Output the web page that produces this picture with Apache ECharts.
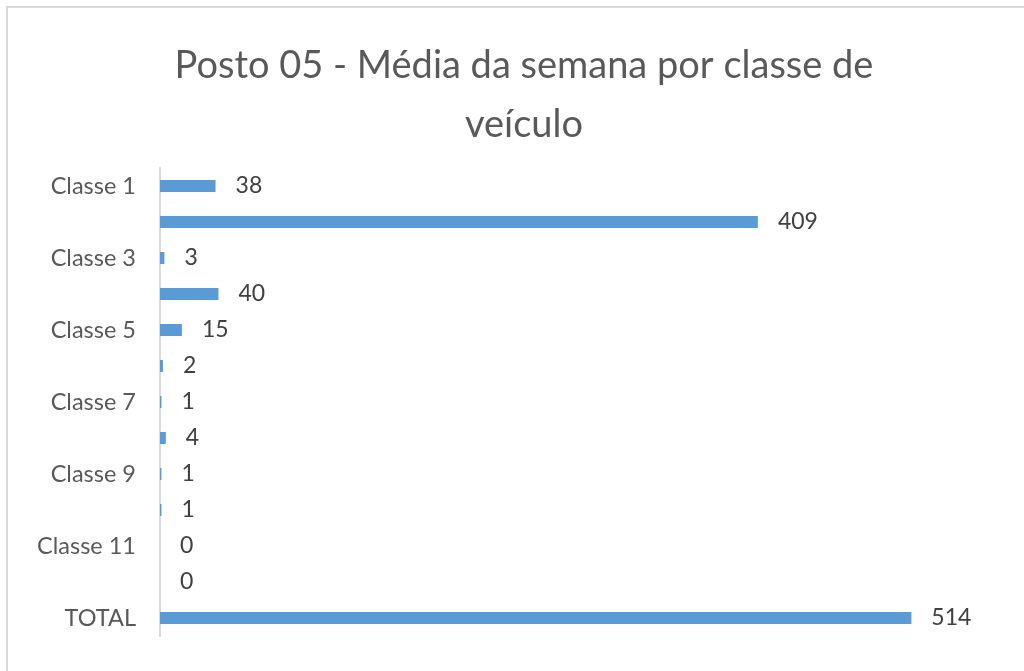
<!DOCTYPE html>
<html>
<head>
<meta charset="utf-8">
<title>Posto 05</title>
<script src="https://cdn.jsdelivr.net/npm/echarts@6/dist/echarts.min.js"></script>
<style>
  html, body { margin: 0; padding: 0; background: #fff; overflow: hidden; }
  .moldura {
    position: absolute; left: 6px; top: 6px;
    width: 1100px; height: 800px;
    border: 2px solid #d9d9d9;
  }
  .grafico { position: absolute; left: 0; top: 0; width: 1024px; height: 671px; }
</style>
</head>
<body>
<div class="moldura"></div>
<div id="grafico" class="grafico"></div>
<script>
// dados
var classes = ['Classe 1', 'Classe 2', 'Classe 3', 'Classe 4', 'Classe 5', 'Classe 6',
  'Classe 7', 'Classe 8', 'Classe 9', 'Classe 10', 'Classe 11', 'Classe 12', 'TOTAL'];
var media = [38, 409, 3, 40, 15, 2, 1, 4, 1, 1, 0, 0, 514];

var fonte = 'Lato, "Open Sans", sans-serif';

var chart = echarts.init(document.getElementById('grafico'));
var option = {
  backgroundColor: 'transparent',
  title: {
    text: 'Posto 05 - Média da semana por classe de\nveículo',
    left: 519,
    top: 31,
    textAlign: 'center',
    textStyle: {
      color: '#595959',
      fontFamily: fonte,
      fontSize: 38,
      fontWeight: 'normal',
      lineHeight: 59
    }
  },
  grid: {
    left: 160,
    top: 168,
    height: 468,
    width: 804
  },
  xAxis: {
    type: 'value',
    min: 0,
    max: 550,
    show: false
  },
  yAxis: {
    type: 'category',
    data: classes,
    inverse: true,
    axisLine: {
      show: true,
      lineStyle: { color: '#d9d9d9', width: 2 }
    },
    axisTick: { show: false },
    axisLabel: {
      interval: 1,
      margin: 24,
      color: '#595959',
      fontFamily: fonte,
      fontSize: 23.5
    }
  },
  series: [{
    name: 'Média',
    type: 'bar',
    data: media,
    barWidth: 12,
    itemStyle: { color: '#5b9bd5' },
    label: {
      show: true,
      position: 'right',
      distance: 20,
      color: '#404040',
      fontFamily: fonte,
      fontSize: 23
    }
  }]
};
chart.setOption(option);
</script>
</body>
</html>
